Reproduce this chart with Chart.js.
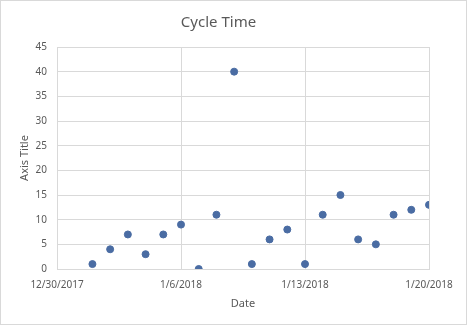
<!DOCTYPE html>
<html>
<head>
<meta charset="utf-8">
<script src="https://cdn.jsdelivr.net/npm/chart.js@4/dist/chart.umd.min.js"></script>
<style>
  html, body { margin: 0; padding: 0; background: #fff; }
  #wrap { width: 467px; height: 325px; }
</style>
</head>
<body>
<div id="wrap"><canvas id="chart" width="467" height="325"></canvas></div>
<script>
// data
const dates = ['1/1/2018', '1/2/2018', '1/3/2018', '1/4/2018', '1/5/2018', '1/6/2018', '1/7/2018',
  '1/8/2018', '1/9/2018', '1/10/2018', '1/11/2018', '1/12/2018', '1/13/2018', '1/14/2018',
  '1/15/2018', '1/16/2018', '1/17/2018', '1/18/2018', '1/19/2018', '1/20/2018'];
const cycleTime = [1, 4, 7, 3, 7, 9, 0, 11, 40, 1, 6, 8, 1, 11, 15, 6, 5, 11, 12, 13];
const xTicks = ['12/30/2017', '1/6/2018', '1/13/2018', '1/20/2018'];
const yTicks = [0, 5, 10, 15, 20, 25, 30, 35, 40, 45];

const DAY = 24 * 3600 * 1000;
const start = new Date(xTicks[0]).getTime();
const toDay = s => Math.round((new Date(s).getTime() - start) / DAY);
const fmt = d => {
  const t = new Date(start + d * DAY);
  return (t.getMonth() + 1) + '/' + t.getDate() + '/' + t.getFullYear();
};

const points = dates.map((d, i) => ({ x: toDay(d), y: cycleTime[i] }));
const textColor = '#595959';
const gridColor = '#d9d9d9';
const fontFamily = '"Noto Sans", "Open Sans", sans-serif';

// white background + thin outer border like the Excel chart frame
const frame = {
  id: 'frame',
  beforeDraw(chart) {
    const c = chart.ctx;
    c.save();
    c.fillStyle = '#fff';
    c.fillRect(0, 0, chart.width, chart.height);
    c.strokeStyle = gridColor;
    c.lineWidth = 1;
    c.strokeRect(0.5, 0.5, chart.width - 1, chart.height - 1);
    c.restore();
  }
};

new Chart(document.getElementById('chart'), {
  type: 'scatter',
  data: {
    datasets: [{
      label: 'Cycle Time',
      data: points,
      backgroundColor: '#4a6ca3',
      borderColor: '#4a6ca3',
      pointRadius: 3.5,
      pointHoverRadius: 3.5
    }]
  },
  options: {
    responsive: false,
    animation: false,
    layout: { padding: { left: 8, right: 38, top: 0, bottom: 0 } },
    plugins: {
      legend: { display: false },
      tooltip: { enabled: false },
      title: {
        display: true,
        text: 'Cycle Time',
        color: textColor,
        font: { family: fontFamily, size: 15, weight: 'normal' },
        padding: { top: 14, bottom: 15 }
      }
    },
    scales: {
      x: {
        type: 'linear',
        min: toDay(xTicks[0]),
        max: toDay(xTicks[xTicks.length - 1]),
        afterBuildTicks: s => { s.ticks = xTicks.map(t => ({ value: toDay(t) })); },
        afterFit: s => { s.height = 56; },
        grid: { color: gridColor, drawTicks: false },
        border: { color: gridColor },
        ticks: {
          color: textColor,
          font: { family: fontFamily, size: 10 },
          padding: 10,
          maxRotation: 0,
          callback: v => fmt(v)
        },
        title: {
          display: true,
          text: 'Date',
          color: textColor,
          font: { family: fontFamily, size: 11 },
          padding: { top: 4, bottom: 15 }
        }
      },
      y: {
        min: yTicks[0],
        max: yTicks[yTicks.length - 1],
        afterBuildTicks: s => { s.ticks = yTicks.map(v => ({ value: v })); },
        afterFit: s => { s.width = 49; },
        grid: { color: gridColor, drawTicks: false },
        border: { color: gridColor },
        ticks: {
          color: textColor,
          font: { family: fontFamily, size: 10 },
          padding: 10
        },
        title: {
          display: true,
          text: 'Axis Title',
          color: textColor,
          font: { family: fontFamily, size: 11 },
          padding: { top: 10, bottom: 4 }
        }
      }
    }
  },
  plugins: [frame]
});
</script>
</body>
</html>
